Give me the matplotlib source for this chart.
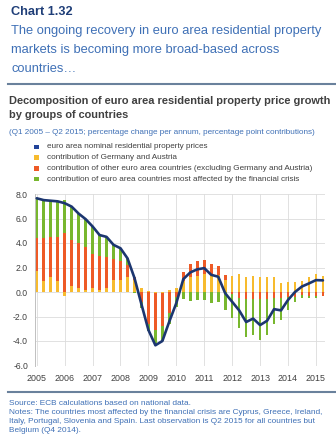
import numpy as np
import matplotlib
matplotlib.use("Agg")
import matplotlib.pyplot as plt
from matplotlib.patches import Rectangle
from matplotlib.lines import Line2D

plt.rcParams['font.family'] = ['Liberation Sans', 'DejaVu Sans']
plt.rcParams['axes.unicode_minus'] = False

# Quarterly data, Q1 2005 - Q2 2015
years = list(range(2005, 2016))
quarters = [f"Q{q} {y}" for y in range(2005, 2016) for q in range(1, 5)][:42]

euro_area_total = [7.65, 7.5, 7.45, 7.4, 7.25, 6.97, 6.4, 5.95, 5.35, 4.65,
                   4.5, 3.85, 3.57, 2.75, 1.15, -1.0, -3.1, -4.35, -4.0, -2.4,
                   -0.9, 1.05, 1.6, 1.85, 1.95, 1.4, 1.25, -0.1, -0.8, -1.5,
                   -2.45, -2.17, -2.7, -2.35, -1.4, -1.5, -0.65, 0.0, 0.45, 0.7,
                   0.97, 0.95]
germany_austria = [1.7, 0.9, 1.25, 0.9, -0.3, 0.45, 0.3, 0.2, 0.3, 0.15,
                   0.3, 0.95, 1.0, 1.2, 1.0, 0.3, 0.1, -0.1, -0.1, 0.2,
                   0.3, 0.9, 1.2, 1.3, 1.5, 1.4, 1.4, 1.0, 1.3, 1.47,
                   1.2, 1.33, 1.2, 1.2, 1.2, 0.76, 0.8, 0.85, 0.9, 1.2,
                   1.47, 1.3]
other_euro_area = [2.7, 3.5, 3.2, 3.6, 4.85, 3.8, 3.7, 3.45, 2.8, 2.75,
                   2.55, 1.75, 1.5, 1.0, 0.25, -0.8, -2.6, -3.0, -2.7, -1.7,
                   -0.4, 0.75, 1.1, 1.2, 1.1, 0.9, 0.7, 0.4, -0.2, -0.5,
                   -0.6, -0.6, -0.6, -0.6, -0.5, -0.5, -0.4, -0.4, -0.25, -0.3,
                   -0.3, -0.3]
crisis_countries = [3.25, 3.1, 3.0, 2.9, 2.7, 2.72, 2.4, 2.3, 2.25, 1.75,
                    1.65, 1.15, 1.07, 0.55, -0.1, -0.5, -0.6, -1.25, -1.2, -0.9,
                    -0.8, -0.6, -0.7, -0.65, -0.65, -0.9, -0.85, -1.5, -1.9, -2.47,
                    -3.05, -2.9, -3.3, -2.95, -2.1, -1.76, -1.05, -0.45, -0.2, -0.2,
                    -0.2, -0.05]

legend_labels = [
    "euro area nominal residential property prices",
    "contribution of Germany and Austria",
    "contribution of other euro area countries (excluding Germany and Austria)",
    "contribution of euro area countries most affected by the financial crisis",
]

C_LINE = '#1c3670'
C_LEG_LINE = '#22449a'
C_YEL = '#f7bb2e'
C_ORA = '#ee5a26'
C_GRN = '#78b72e'
C_TITLE = '#1f3e78'
C_BLUE = '#3f70b6'
C_GREY = '#404040'
C_RULE = '#6a819c'

W, H = 336, 446
fig = plt.figure(figsize=(W / 100, H / 100), dpi=100)
fig.patch.set_facecolor('white')


def fx(px):
    return px / W


def fy(py):
    return 1 - py / H


# Header
fig.text(fx(11), fy(12), "Chart 1.32", fontsize=9.2, fontweight='bold',
         color=C_TITLE, va='center', ha='left')
for i, line in enumerate(["The ongoing recovery in euro area residential property",
                          "markets is becoming more broad-based across",
                          "countries\u2026"]):
    fig.text(fx(11), fy(31 + 19.2 * i), line, fontsize=9.3, color=C_BLUE,
             va='center', ha='left')
fig.add_artist(Line2D([fx(8), fx(336)], [fy(84), fy(84)], color=C_RULE, lw=1.5))

fig.text(fx(9), fy(101.5), "Decomposition of euro area residential property price growth",
         fontsize=7.95, fontweight='bold', color=C_GREY, va='center', ha='left')
fig.text(fx(9), fy(115.5), "by groups of countries",
         fontsize=7.95, fontweight='bold', color=C_GREY, va='center', ha='left')
fig.text(fx(9), fy(133), "(Q1 2005 \u2013 Q2 2015; percentage change per annum, percentage point contributions)",
         fontsize=5.9, color=C_BLUE, va='center', ha='left')

# Legend
leg_colors = [C_LEG_LINE, C_YEL, C_ORA, C_GRN]
for i, (lab, col) in enumerate(zip(legend_labels, leg_colors)):
    yc = 147 + 10.7 * i
    fig.add_artist(Rectangle((fx(34), fy(yc + 2.3)), 4.6 / W, 4.6 / H,
                             facecolor=col, edgecolor='none'))
    fig.text(fx(47), fy(yc), lab, fontsize=5.85, color=C_GREY,
             va='center', ha='left')

# Plot area
ax = fig.add_axes([fx(35), fy(365.5), (325 - 35) / W, (365.5 - 194) / H])
x = np.arange(len(euro_area_total))
series = [(germany_austria, C_YEL), (other_euro_area, C_ORA), (crisis_countries, C_GRN)]
pos_base = np.zeros(len(x))
neg_base = np.zeros(len(x))
for vals, col in series:
    v = np.asarray(vals, dtype=float)
    base = np.where(v >= 0, pos_base, neg_base)
    ax.bar(x, v, bottom=base, width=0.38, color=col, linewidth=0, zorder=2)
    pos_base = pos_base + np.where(v >= 0, v, 0)
    neg_base = neg_base + np.where(v < 0, v, 0)

ax.plot(x, euro_area_total, color=C_LINE, lw=1.9, zorder=3,
        solid_joinstyle='round', solid_capstyle='round')

ax.set_xlim(-0.25, 41.3)
ax.set_ylim(-6, 8)
ax.set_yticks(np.arange(-6, 8.1, 2))
ax.set_yticklabels([f"{v:.1f}" for v in np.arange(-6, 8.1, 2)])
ax.set_xticks([4 * k for k in range(len(years))])
ax.set_xticklabels([str(y) for y in years])
ax.grid(True, color='#dcdcdc', lw=0.6, zorder=0)
ax.set_axisbelow(True)
for s in ['top', 'right', 'bottom']:
    ax.spines[s].set_visible(False)
ax.spines['left'].set_color('#c0c0c0')
ax.spines['left'].set_linewidth(0.7)
ax.tick_params(axis='y', length=0, labelsize=6.2, colors=C_GREY, pad=5)
ax.tick_params(axis='x', length=0, labelsize=6.4, colors=C_GREY, pad=6)

# Footer
fig.add_artist(Line2D([fx(8), fx(336)], [fy(392), fy(392)], color=C_RULE, lw=1.5))
foot = ["Source: ECB calculations based on national data.",
        "Notes: The countries most affected by the financial crisis are Cyprus, Greece, Ireland,",
        "Italy, Portugal, Slovenia and Spain. Last observation is Q2 2015 for all countries but",
        "Belgium (Q4 2014)."]
for i, line in enumerate(foot):
    fig.text(fx(9), fy(403.5 + 8.9 * i), line, fontsize=5.95, color=C_BLUE,
             va='center', ha='left')

fig.savefig("out.png", dpi=100, facecolor='white')
